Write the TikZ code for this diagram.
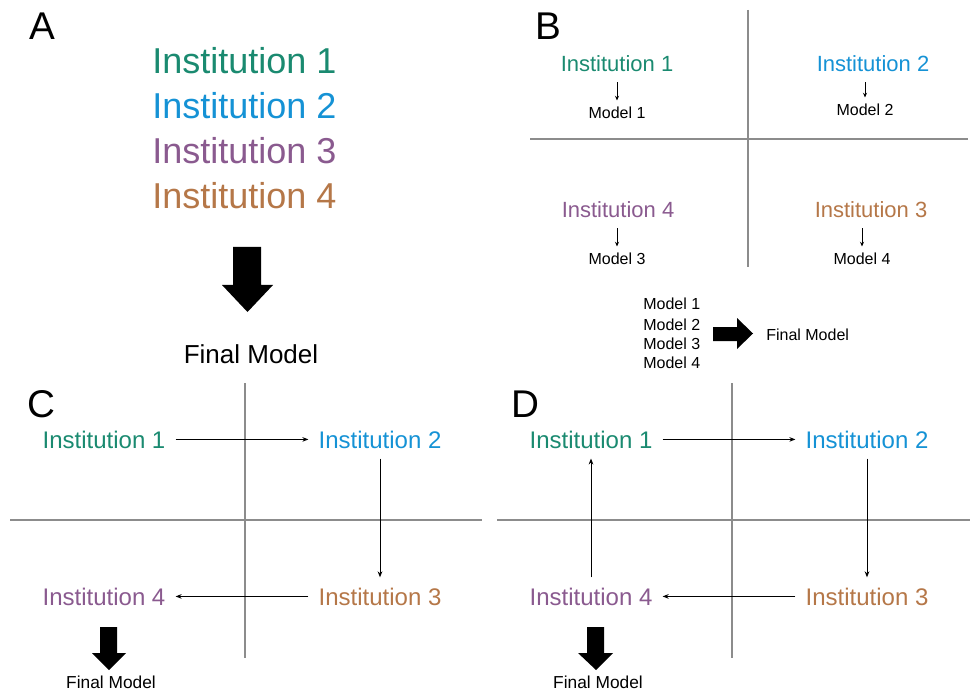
\documentclass[tikz,border=0pt]{standalone}
\usepackage{fontspec}
\setmainfont{Liberation Sans}
\usetikzlibrary{arrows.meta}
\definecolor{cgreen}{HTML}{1A8A70}
\definecolor{cblue}{HTML}{1592D5}
\definecolor{cpurple}{HTML}{8A5A8F}
\definecolor{cbrown}{HTML}{B57748}
\definecolor{cgrid}{HTML}{8C8C8C}
\begin{document}
\begin{tikzpicture}[x=0.75pt,y=-0.75pt,
  panel/.style={font=\fontsize{29}{29}\selectfont, anchor=base, inner sep=0pt},
  instA/.style={font=\fontsize{27}{27}\selectfont, anchor=base west, inner sep=0pt},
  instB/.style={font=\fontsize{16.5}{16.5}\selectfont, anchor=base, inner sep=0pt},
  modB/.style={font=\fontsize{12}{12}\selectfont, anchor=base, inner sep=0pt},
  instC/.style={font=\fontsize{18}{18}\selectfont, anchor=base, inner xsep=7.5pt, inner ysep=7.5pt},
  finalA/.style={font=\fontsize{19.5}{19.5}\selectfont, anchor=base, inner sep=0pt},
  finalC/.style={font=\fontsize{13}{13}\selectfont, anchor=base, inner sep=0pt},
  grid/.style={draw=cgrid, line width=0.8pt},
  flow/.style={draw=black, line width=0.75pt, -{Stealth[length=4.5pt,width=3.5pt]}},
  small/.style={draw=black, line width=0.6pt, -{Stealth[length=3.5pt,width=3pt]}},
  block/.style={fill=black}
]
\useasboundingbox (0,0) rectangle (973,691);

% ---------------- Panel A ----------------
\node[panel] (lA) at (42,40) {A};
\node[instA, text=cgreen]  (a1) at (152,74)  {Institution 1};
\node[instA, text=cblue]   (a2) at (152,119) {Institution 2};
\node[instA, text=cpurple] (a3) at (152,164) {Institution 3};
\node[instA, text=cbrown]  (a4) at (152,209) {Institution 4};
\fill[block] (233,247) -- (261,247) -- (261,285) -- (273,285) -- (247.5,312)
  -- (222,285) -- (233,285) -- cycle;
\node[finalA] (af) at (251,363) {Final Model};

% ---------------- Panel B ----------------
\node[panel] (lB) at (548,40) {B};
\draw[grid] (748,10) -- (748,267);
\draw[grid] (530,139) -- (968,139);
\node[instB, text=cgreen]  (b1) at (617,72)  {Institution 1};
\node[instB, text=cblue]   (b2) at (873,72)  {Institution 2};
\node[instB, text=cpurple] (b4) at (618,218) {Institution 4};
\node[instB, text=cbrown]  (b3) at (871,218) {Institution 3};
\node[modB] (m1) at (617,119) {Model 1};
\node[modB] (m2) at (865,116) {Model 2};
\node[modB] (m3) at (617,265) {Model 3};
\node[modB] (m4) at (862,265) {Model 4};
\draw[small, shorten <=7.5pt, shorten >=5pt] (b1.south -| m1) -- (m1.north);
\draw[small, shorten <=7.5pt, shorten >=5pt] (b2.south -| m2) -- (m2.north);
\draw[small, shorten <=7.5pt, shorten >=5pt] (b4.south -| m3) -- (m3.north);
\draw[small, shorten <=7.5pt, shorten >=5pt] (b3.south -| m4) -- (m4.north);
\node[modB, anchor=base west] (l1) at (643,310) {Model 1};
\node[modB, anchor=base west] (l2) at (643,330) {Model 2};
\node[modB, anchor=base west] (l3) at (643,349) {Model 3};
\node[modB, anchor=base west] (l4) at (643,368) {Model 4};
\fill[block] (713,327) -- (737,327) -- (737,318) -- (753,333.5) -- (737,349)
  -- (737,341) -- (713,341) -- cycle;
\node[modB, anchor=base west] (bf) at (766,340) {Final Model};

% ---------------- Panel C ----------------
\node[panel] (lC) at (41,417) {C};
\draw[grid] (245,383) -- (245,658);
\draw[grid] (10,520) -- (482,520);
\node[instC, text=cgreen]  (c1) at (104,448) {Institution 1};
\node[instC, text=cblue]   (c2) at (380,448) {Institution 2};
\node[instC, text=cbrown]  (c3) at (380,605) {Institution 3};
\node[instC, text=cpurple] (c4) at (104,605) {Institution 4};
\draw[flow] (c1) -- (c2);
\draw[flow] (c2) -- (c3);
\draw[flow] (c3) -- (c4);
\fill[block] (100,627) -- (117,627) -- (117,653) -- (126,653) -- (109,670)
  -- (92,653) -- (100,653) -- cycle;
\node[finalC] (cf) at (111,688) {Final Model};

% ---------------- Panel D ----------------
\node[panel] (lD) at (525,417) {D};
\draw[grid] (732,383) -- (732,658);
\draw[grid] (497,520) -- (970,520);
\node[instC, text=cgreen]  (d1) at (591,448) {Institution 1};
\node[instC, text=cblue]   (d2) at (867,448) {Institution 2};
\node[instC, text=cbrown]  (d3) at (867,605) {Institution 3};
\node[instC, text=cpurple] (d4) at (591,605) {Institution 4};
\draw[flow] (d1) -- (d2);
\draw[flow] (d2) -- (d3);
\draw[flow] (d3) -- (d4);
\draw[flow] (d4) -- (d1);
\fill[block] (587,627) -- (604,627) -- (604,653) -- (613,653) -- (596,670)
  -- (578,653) -- (587,653) -- cycle;
\node[finalC] (df) at (598,688) {Final Model};
\end{tikzpicture}
\end{document}
